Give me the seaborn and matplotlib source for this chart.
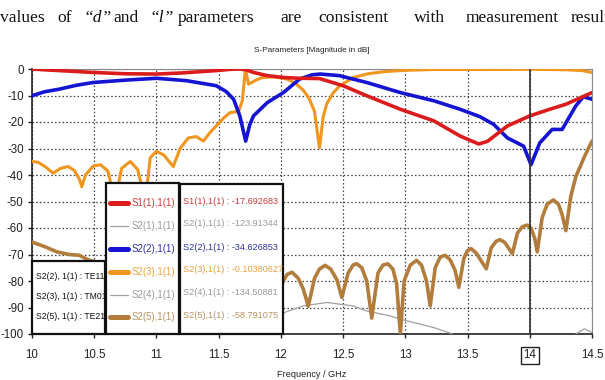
import numpy as np
import pandas as pd
import seaborn as sns
import matplotlib
matplotlib.use("Agg")
import matplotlib.pyplot as plt
from matplotlib.lines import Line2D
from matplotlib.patches import Rectangle

# ---------------- data ----------------
s11_f = [10.0, 10.1, 10.3, 10.49, 10.75, 11.0, 11.2, 11.48, 11.6, 11.67, 11.72, 11.78, 11.89, 12.02,
         12.15, 12.31, 12.5, 12.69, 12.96, 13.23, 13.44, 13.59, 13.66, 13.82, 14.0, 14.16, 14.29, 14.5]
s11_v = [0.0, -0.3, -0.8, -1.3, -1.8, -1.9, -1.5, -0.6, -0.1, 0.0, -0.3, -1.3, -2.5, -3.2,
         -3.5, -3.6, -6.3, -10.1, -15.2, -19.6, -25.3, -28.3, -27.3, -21.5, -17.7, -15.2, -13.3, -8.9]

s22_f = [10.0, 10.1, 10.22, 10.35, 10.49, 10.75, 11.0, 11.24, 11.48, 11.56, 11.62, 11.67, 11.717, 11.75,
         11.78, 11.89, 12.02, 12.15, 12.25, 12.315, 12.47, 12.69, 12.96, 13.23, 13.44, 13.6, 13.71, 13.82,
         13.95, 14.01, 14.08, 14.18, 14.26, 14.37, 14.43, 14.5]
s22_v = [-10.1, -8.6, -7.6, -6.2, -5.1, -4.2, -3.5, -4.4, -6.3, -8.5, -11.4, -17.7, -27.2, -21.0,
         -17.7, -12.7, -8.9, -3.8, -2.2, -1.9, -2.5, -5.1, -8.9, -12.0, -15.2, -18.0, -20.9, -26.0,
         -29.1, -36.1, -27.9, -22.8, -22.8, -13.9, -10.5, -11.4]

s23_f = [10.0, 10.05, 10.11, 10.17, 10.23, 10.29, 10.34, 10.38, 10.40, 10.43, 10.49, 10.55, 10.61, 10.667,
         10.72, 10.79, 10.85, 10.91, 10.95, 11.0, 11.06, 11.135, 11.19, 11.256, 11.32, 11.377, 11.43, 11.48,
         11.54, 11.59, 11.66, 11.69, 11.715, 11.74, 11.8, 11.85, 11.95, 12.05, 12.12, 12.18, 12.23, 12.27,
         12.31, 12.34, 12.37, 12.42, 12.47, 12.58, 12.7, 12.83, 13.0, 13.23, 13.6, 14.0, 14.3, 14.42, 14.5]
s23_v = [-34.9, -35.2, -37.0, -39.3, -37.5, -36.8, -38.3, -41.5, -44.4, -40.0, -36.7, -36.1, -38.5, -50.0,
         -37.5, -34.9, -38.0, -50.0, -33.5, -31.0, -32.5, -36.8, -30.0, -26.0, -25.5, -27.2, -24.0, -21.5,
         -18.5, -16.5, -16.0, -12.0, 0.0, -5.7, -4.2, -3.2, -3.0, -3.8, -5.5, -8.0, -11.4, -16.0,
         -29.8, -18.0, -13.0, -9.0, -6.5, -3.2, -1.8, -1.0, -0.5, -0.2, -0.2, -0.1, -0.3, -0.6, -1.3]

s24_f = [11.5, 11.8, 11.91, 12.05, 12.18, 12.37, 12.58, 12.69, 12.88, 12.96, 13.23, 13.38, 13.7, 14.0,
         14.3, 14.37, 14.44, 14.5]
s24_v = [-99.0, -96.0, -94.4, -91.5, -89.4, -88.1, -89.4, -91.3, -93.2, -94.4, -97.6, -100.0, -115.0, -134.5,
         -108.0, -100.0, -98.0, -99.5]

s25_f = [10.0, 10.1, 10.2, 10.3, 10.38, 10.45, 10.6, 10.8, 11.0, 11.2, 11.4, 11.6, 11.8, 11.95,
         12.02, 12.05, 12.09, 12.14, 12.18, 12.22, 12.27, 12.31, 12.355, 12.4, 12.45, 12.49, 12.54, 12.58,
         12.61, 12.65, 12.69, 12.73, 12.78, 12.82, 12.86, 12.9, 12.93, 12.96, 12.99, 13.04, 13.09, 13.13,
         13.17, 13.2, 13.24, 13.28, 13.32, 13.36, 13.4, 13.43, 13.47, 13.5, 13.53, 13.57, 13.65, 13.69,
         13.73, 13.76, 13.8, 13.86, 13.9, 13.94, 13.98, 14.01, 14.04, 14.06, 14.1, 14.14, 14.19, 14.23,
         14.26, 14.29, 14.33, 14.37, 14.44, 14.5]
s25_v = [-65.3, -67.0, -69.0, -70.0, -70.3, -72.0, -74.0, -76.0, -78.0, -80.0, -82.0, -84.0, -80.0, -88.0,
         -80.0, -77.5, -76.7, -79.0, -83.0, -89.5, -79.0, -75.5, -74.1, -75.5, -79.5, -86.2, -77.0, -74.0,
         -73.5, -75.0, -80.0, -94.0, -77.0, -74.0, -73.5, -75.5, -81.0, -100.0, -80.0, -74.0, -72.2, -74.0,
         -80.0, -89.4, -75.0, -71.0, -70.3, -72.0, -76.0, -82.4, -71.5, -68.5, -67.8, -69.5, -75.4, -67.5,
         -65.0, -64.4, -65.5, -69.7, -62.0, -59.5, -58.9, -60.0, -64.0, -69.0, -56.0, -51.0, -49.4, -51.0,
         -55.0, -61.0, -48.0, -40.6, -33.0, -27.2]

series_names = ["S1(1),1(1)", "S2(1),1(1)", "S2(2),1(1)", "S2(3),1(1)", "S2(4),1(1)", "S2(5),1(1)"]
marker_values = ["-17.692683", "-123.91344", "-34.626853", "-0.10380627", "-134.50881", "-58.791075"]
mode_labels = ["S2(2), 1(1) : TE11", "S2(3), 1(1) : TM01", "S2(5), 1(1) : TE21"]
x_ticks = [10, 10.5, 11, 11.5, 12, 12.5, 13, 13.5, 14, 14.5]
y_ticks = [0, -10, -20, -30, -40, -50, -60, -70, -80, -90, -100]
marker_freq = 14
header_words = ["values", "of", "\u201cd\u201d", "and", "\u201cl\u201d", "parameters", "are",
                "consistent", "with", "measurement", "results"]

# ---------------- style ----------------
sns.set_theme(style="white")
SANS = ["Liberation Sans", "DejaVu Sans"]
plt.rcParams["font.family"] = SANS

line_cols = ["#dc1c1c", "#a0a0a0", "#1414d2", "#f0961e", "#a0a0a0", "#b27d3c"]
text_cols = ["#cc3a3a", "#9a9a9a", "#2e2ea0", "#e8a040", "#9a9a9a", "#b8925e"]
line_w = [2.6, 0.9, 2.6, 2.2, 0.9, 2.6]

fig = plt.figure(figsize=(6.05, 3.8), dpi=100)
ax = fig.add_axes([32 / 605, 1 - 334 / 380, 560 / 605, 265 / 380])

def draw(f, v, i, z):
    df = pd.DataFrame({"f": f, "v": v})
    sns.lineplot(data=df, x="f", y="v", ax=ax, color=line_cols[i], lw=line_w[i],
                 sort=False, estimator=None, zorder=z, solid_capstyle="round")

draw(s24_f, s24_v, 4, 3)
draw(s25_f, s25_v, 5, 4)
draw(s23_f, s23_v, 3, 5)
draw(s22_f, s22_v, 2, 6)
draw(s11_f, s11_v, 0, 7)

ax.axvline(marker_freq, color="#303030", lw=1.2, zorder=8)

ax.set_xlim(10, 14.5)
ax.set_ylim(-100, 0)
ax.set_xticks(x_ticks)
ax.set_xticklabels([f"{t:g}" for t in x_ticks])
ax.set_yticks(y_ticks)
ax.set_yticklabels([f"{t:g}" for t in y_ticks])
ax.grid(True, color="#404040", linestyle=(0, (1.2, 1.8)), lw=0.9)
ax.set_axisbelow(True)
ax.tick_params(axis="both", which="major", labelsize=8.3, colors="#222222",
               length=3, width=1, direction="out", left=True, bottom=True)
ax.tick_params(axis="x", pad=8)
ax.tick_params(axis="y", pad=3)
for s in ["left", "bottom"]:
    ax.spines[s].set_color("#222222")
    ax.spines[s].set_linewidth(1.2)
for s in ["right", "top"]:
    ax.spines[s].set_color("#888888")
    ax.spines[s].set_linewidth(0.8)
ax.set_xlabel("Frequency / GHz", fontsize=6.6, color="#222222", labelpad=6)
ax.set_ylabel("")
ax.set_title("S-Parameters [Magnitude in dB]", fontsize=5.9, color="#222222", pad=12)

for lab in ax.get_xticklabels():
    if lab.get_text() == "14":
        lab.set_bbox(dict(facecolor="white", edgecolor="#222222", lw=1.0, pad=2.0))

T = ax.transAxes
def px_x(p):
    return (p - 32) / 560
def px_y(p):
    return (334 - p) / 265

# legend box of lines
ax.add_patch(Rectangle((px_x(106), 0), px_x(179) - px_x(106), px_y(183), transform=T,
                       facecolor="white", edgecolor="#111111", lw=1.6, zorder=20, clip_on=False))
leg_rows = [203, 226, 249, 272, 295, 317]
for i in range(6):
    y = px_y(leg_rows[i])
    ax.add_line(Line2D([px_x(110), px_x(128)], [y, y], transform=T, color=line_cols[i],
                       lw=(3.6 if line_w[i] > 2 else 0.9), zorder=21, clip_on=False))
    ax.text(px_x(132), y, series_names[i], transform=T, fontsize=6.9, color=text_cols[i],
            va="center", ha="left", zorder=22)

# marker value box
ax.add_patch(Rectangle((px_x(180), 0), px_x(283) - px_x(180), px_y(184), transform=T,
                       facecolor="white", edgecolor="#111111", lw=1.6, zorder=21, clip_on=False))
rows_px = [201, 224, 247, 270, 292.5, 315.5]
for i in range(6):
    ax.text(px_x(183), px_y(rows_px[i]), f"{series_names[i]} : {marker_values[i]}",
            transform=T, fontsize=6.6, color=text_cols[i], va="center", ha="left", zorder=22)

# mode box
ax.add_patch(Rectangle((0, 0), px_x(105), px_y(261), transform=T, facecolor="white",
                       edgecolor="#111111", lw=1.6, zorder=21, clip_on=False))
mrows = [276.7, 296.7, 316.7]
for i in range(3):
    ax.text(px_x(36), px_y(mrows[i]), mode_labels[i], transform=T,
            fontsize=6.2, color="#111111", va="center", ha="left", zorder=22)

# header sentence (page text)
word_x = [0, 57, 83, 113, 149, 178, 280, 318, 414, 466, 571]
for w, x in zip(header_words, word_x):
    fig.text(x / 605, 1 - 18 / 380, w, fontsize=12.6, family=["Liberation Serif", "DejaVu Serif"],
             style=("italic" if w in ("\u201cd\u201d", "\u201cl\u201d") else "normal"),
             va="center", ha="left", color="#111111")

fig.savefig("out.png", dpi=100)
